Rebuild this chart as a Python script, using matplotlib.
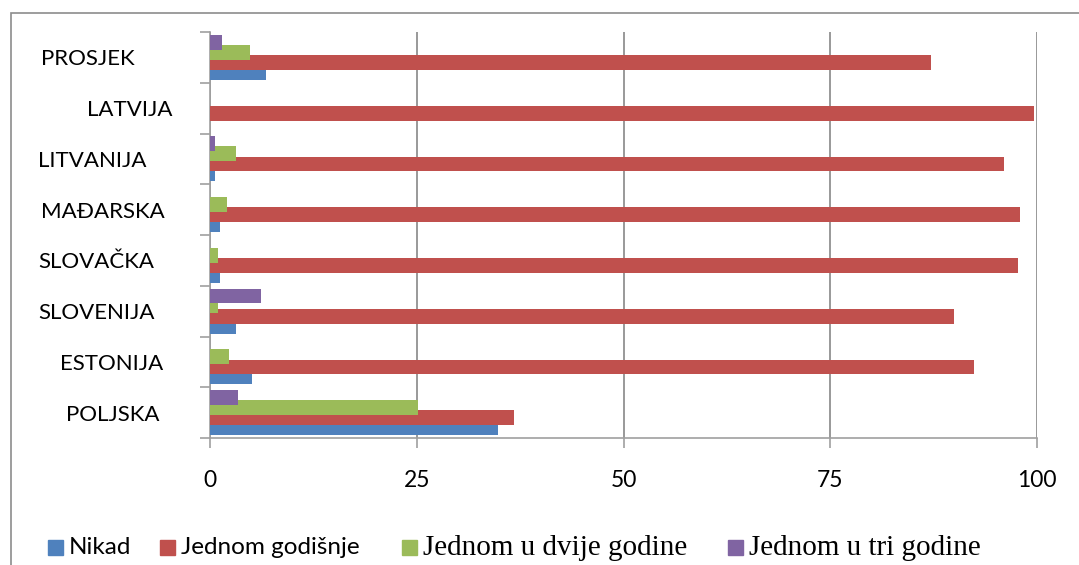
import matplotlib.pyplot as plt
import matplotlib.transforms as mtransforms
from matplotlib.patches import Rectangle
import numpy as np

countries = ['POLJSKA', 'ESTONIJA', 'SLOVENIJA', 'SLOVAČKA', 'MAĐARSKA', 'LITVANIJA', 'LATVIJA', 'PROSJEK']
nikad = [34.8, 5.1, 3.1, 1.2, 1.2, 0.6, 0, 6.8]
godisnje = [36.8, 92.4, 90.0, 97.7, 98.0, 96.0, 99.6, 87.2]
dvije = [25.1, 2.3, 1.0, 1.0, 2.0, 3.1, 0, 4.8]
tri = [3.4, 0, 6.2, 0, 0, 0.6, 0, 1.45]
series_names = ['Nikad', 'Jednom godišnje', 'Jednom u dvije godine', 'Jednom u tri godine']
colors = ['#4F81BD', '#C0504D', '#9BBB59', '#8064A2']
label_x = [66, 60, 38, 38, 41, 38, 87, 41]  # left edge of each country label, px
legend_x = [48, 160, 402, 728]  # left edge of each legend square, px

W, H = 1079, 565
fig = plt.figure(figsize=(W / 100, H / 100), dpi=100)
fig.patches.append(Rectangle((11 / W, -0.1), 1.2, 1 - 13 / H + 0.1, transform=fig.transFigure,
                             fill=False, edgecolor='#8c8c8c', linewidth=1.2))
ax = fig.add_axes([210 / W, 1 - 438 / H, 827 / W, 406 / H])

y = np.arange(len(countries))
offsets = [-0.3, -0.1, 0.1, 0.3]
for k, vals in enumerate([nikad, godisnje, dvije, tri]):
    ax.barh(y + offsets[k], vals, height=0.29, color=colors[k], zorder=3 + k)

ax.set_xlim(0, 100)
ax.set_ylim(-0.5, len(countries) - 0.5)
ax.set_xticks([0, 25, 50, 75, 100])
ax.set_yticks(np.arange(-0.5, len(countries), 1.0))
ax.set_yticklabels([])
ax.grid(axis='x', color='#888888', linewidth=1.2, zorder=1)
for s in ['top', 'right']:
    ax.spines[s].set_visible(False)
for s in ['left', 'bottom']:
    ax.spines[s].set_color('#a0a0a0')
    ax.spines[s].set_linewidth(1.2)
ax.tick_params(axis='y', direction='out', length=7, color='#a0a0a0', width=1.2)
ax.tick_params(axis='x', direction='out', length=7, color='#a0a0a0', width=1.2, pad=16,
               labelsize=16.5)
for t in ax.get_xticklabels():
    t.set_fontfamily('Lato')

trans = mtransforms.blended_transform_factory(fig.transFigure, ax.transData)
for i, name in enumerate(countries):
    ax.text(label_x[i] / W, i - 0.04, name, transform=trans, ha='left', va='center',
            fontsize=16, family='Lato', clip_on=False)

# legend drawn by hand so each entry sits where it does in the original
ly = 1 - 547 / H
for k, name in enumerate(series_names):
    x0 = legend_x[k]
    fig.patches.append(Rectangle((x0 / W, ly - 7.5 / H), 15 / W, 15 / H, transform=fig.transFigure,
                                 color=colors[k]))
    if k < 2:
        fig.text((x0 + 21) / W, ly, name, ha='left', va='center', fontsize=17.5, family='Lato')
    else:
        fig.text((x0 + 21) / W, ly - 1 / H, name, ha='left', va='center', fontsize=21,
                 family='Liberation Serif')

fig.savefig('out.png', dpi=100)
